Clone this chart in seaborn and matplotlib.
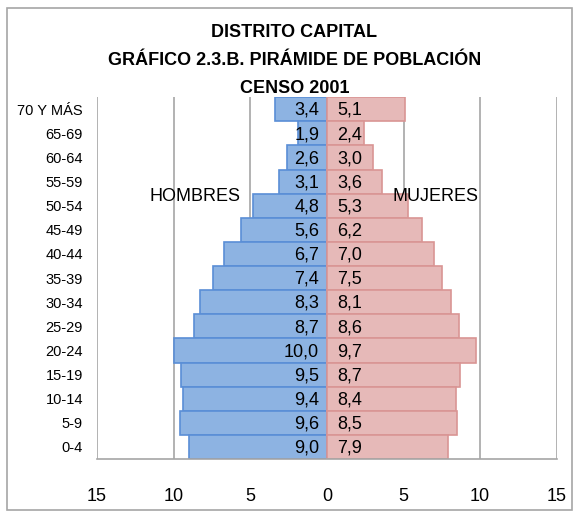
import matplotlib
matplotlib.use("Agg")
import matplotlib.pyplot as plt
from matplotlib.patches import Rectangle
import pandas as pd
import seaborn as sns

# ── Data ────────────────────────────────────────────────────────────────────
grupos = ["70 Y MÁS", "65-69", "60-64", "55-59", "50-54", "45-49", "40-44", "35-39",
          "30-34", "25-29", "20-24", "15-19", "10-14", "5-9", "0-4"]
hombres = [3.4, 1.9, 2.6, 3.1, 4.8, 5.6, 6.7, 7.4, 8.3, 8.7, 10.0, 9.5, 9.4, 9.6, 9.0]
mujeres = [5.1, 2.4, 3.0, 3.6, 5.3, 6.2, 7.0, 7.5, 8.1, 8.6, 9.7, 8.7, 8.4, 8.5, 7.9]
xticks = [-15, -10, -5, 0, 5, 10, 15]
titulo = "DISTRITO CAPITAL\nGRÁFICO 2.3.B. PIRÁMIDE DE POBLACIÓN\nCENSO 2001"

df = pd.DataFrame({"grupo": grupos, "hombres": [-v for v in hombres], "mujeres": mujeres})

# ── Style ───────────────────────────────────────────────────────────────────
sns.set_style("white")
plt.rcParams["font.family"] = ["Liberation Sans", "DejaVu Sans"]
plt.rcParams["text.color"] = "black"

BLUE, BLUE_EDGE = "#8db3e2", "#5a8ed6"
PINK, PINK_EDGE = "#e6b9b8", "#d99594"
GRID = "#a6a6a6"

fig = plt.figure(figsize=(5.77, 5.14), dpi=100)
ax = fig.add_axes([0.168, 0.107, 0.797, 0.704])

for x in xticks:
    ax.axvline(x, color=GRID, lw=1.2, zorder=0)

sns.barplot(data=df, x="hombres", y="grupo", orient="h", color=BLUE, edgecolor=BLUE_EDGE,
            linewidth=1.2, width=1.0, saturation=1, ax=ax, zorder=2)
sns.barplot(data=df, x="mujeres", y="grupo", orient="h", color=PINK, edgecolor=PINK_EDGE,
            linewidth=1.2, width=1.0, saturation=1, ax=ax, zorder=2)

for i, (h, m) in enumerate(zip(hombres, mujeres)):
    ax.text(-0.5, i + 0.05, f"{h:.1f}".replace(".", ","), ha="right", va="center", fontsize=13, zorder=3)
    ax.text(0.7, i + 0.05, f"{m:.1f}".replace(".", ","), ha="left", va="center", fontsize=13, zorder=3)

ax.text(-8.6, 3.6, "HOMBRES", ha="center", va="center", fontsize=13)
ax.text(7.1, 3.6, "MUJERES", ha="center", va="center", fontsize=13)

ax.set_xlim(-15, 15)
ax.set_ylim(14.5, -0.5)
ax.set_xticks(xticks)
ax.set_xticklabels([str(abs(t)) for t in xticks], fontsize=13)
ax.tick_params(axis="x", direction="out", length=6, color=GRID, pad=15, labelcolor="black")
ax.tick_params(axis="y", length=0, labelsize=10.5, pad=10, labelcolor="black")
ax.set_xlabel("")
ax.set_ylabel("")
for s in ["top", "right", "left"]:
    ax.spines[s].set_visible(False)
ax.spines["bottom"].set_color(GRID)
ax.spines["bottom"].set_linewidth(1.2)

fig.text(0.51, 0.883, titulo, ha="center", va="center", fontsize=13, fontweight="bold", linespacing=1.85)

fig.patches.append(Rectangle((0.012, 0.008), 0.98, 0.977, transform=fig.transFigure,
                             fill=False, edgecolor=GRID, lw=1.2))

fig.savefig("out.png", dpi=100)
